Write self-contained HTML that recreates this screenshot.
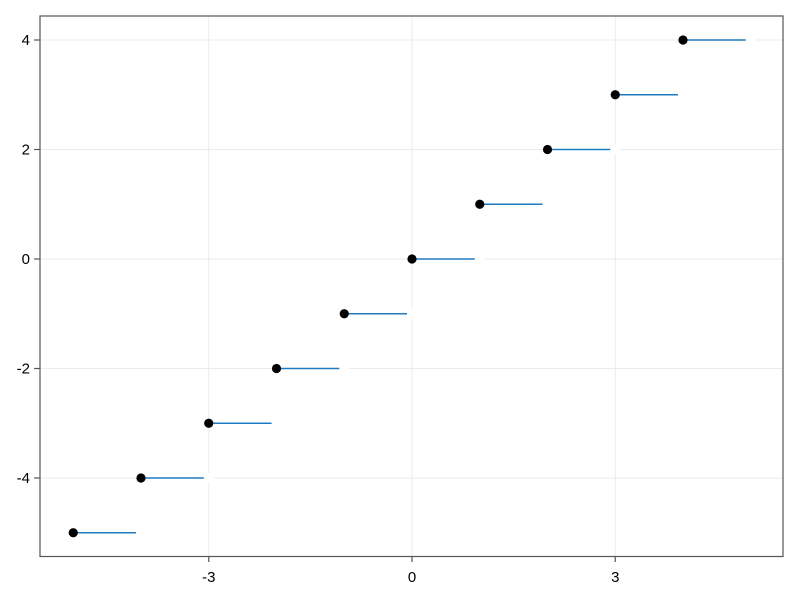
<!DOCTYPE html>
<html><head><meta charset="utf-8"><style>body{margin:0;background:#fff}svg{display:block}</style></head>
<body>
<svg id="s" width="800" height="600" xmlns="http://www.w3.org/2000/svg" font-family="Liberation Sans, sans-serif" font-size="15"></svg>
<script>
const X=k=>412+67.75*k, Y=k=>259-54.75*k;
let h='<rect x="0" y="0" width="800" height="600" fill="#fff"/>';
for(const k of [-3,0,3]) h+=`<line x1="${X(k)}" x2="${X(k)}" y1="16" y2="556" stroke="#ebebeb" stroke-width="1"/>`;
for(const k of [-4,-2,0,2,4]) h+=`<line x1="40" x2="783" y1="${Y(k)}" y2="${Y(k)}" stroke="#ebebeb" stroke-width="1"/>`;
for(let k=-5;k<=4;k++) h+=`<line x1="${X(k)}" x2="${X(k+1)}" y1="${Y(k)}" y2="${Y(k)}" stroke="#1f7bc1" stroke-width="1.6"/>`;
for(let k=-5;k<=4;k++) h+=`<circle cx="${X(k+1)}" cy="${Y(k)}" r="5" fill="#fff"/>`;
for(let k=-5;k<=4;k++) h+=`<circle cx="${X(k)}" cy="${Y(k)}" r="4.6" fill="#000"/>`;
h+='<rect x="40" y="16" width="743" height="540.5" fill="none" stroke="#555" stroke-width="1.2"/>';
for(const k of [-3,0,3]){h+=`<line x1="${X(k)}" x2="${X(k)}" y1="556" y2="562" stroke="#555" stroke-width="1.2"/><text x="${X(k)}" y="582" text-anchor="middle">${k}</text>`;}
for(const k of [-4,-2,0,2,4]){h+=`<line x1="34" x2="40" y1="${Y(k)}" y2="${Y(k)}" stroke="#555" stroke-width="1.2"/><text x="30" y="${Y(k)+5}" text-anchor="end">${k}</text>`;}
document.getElementById('s').innerHTML=h;
</script>
</body></html>
